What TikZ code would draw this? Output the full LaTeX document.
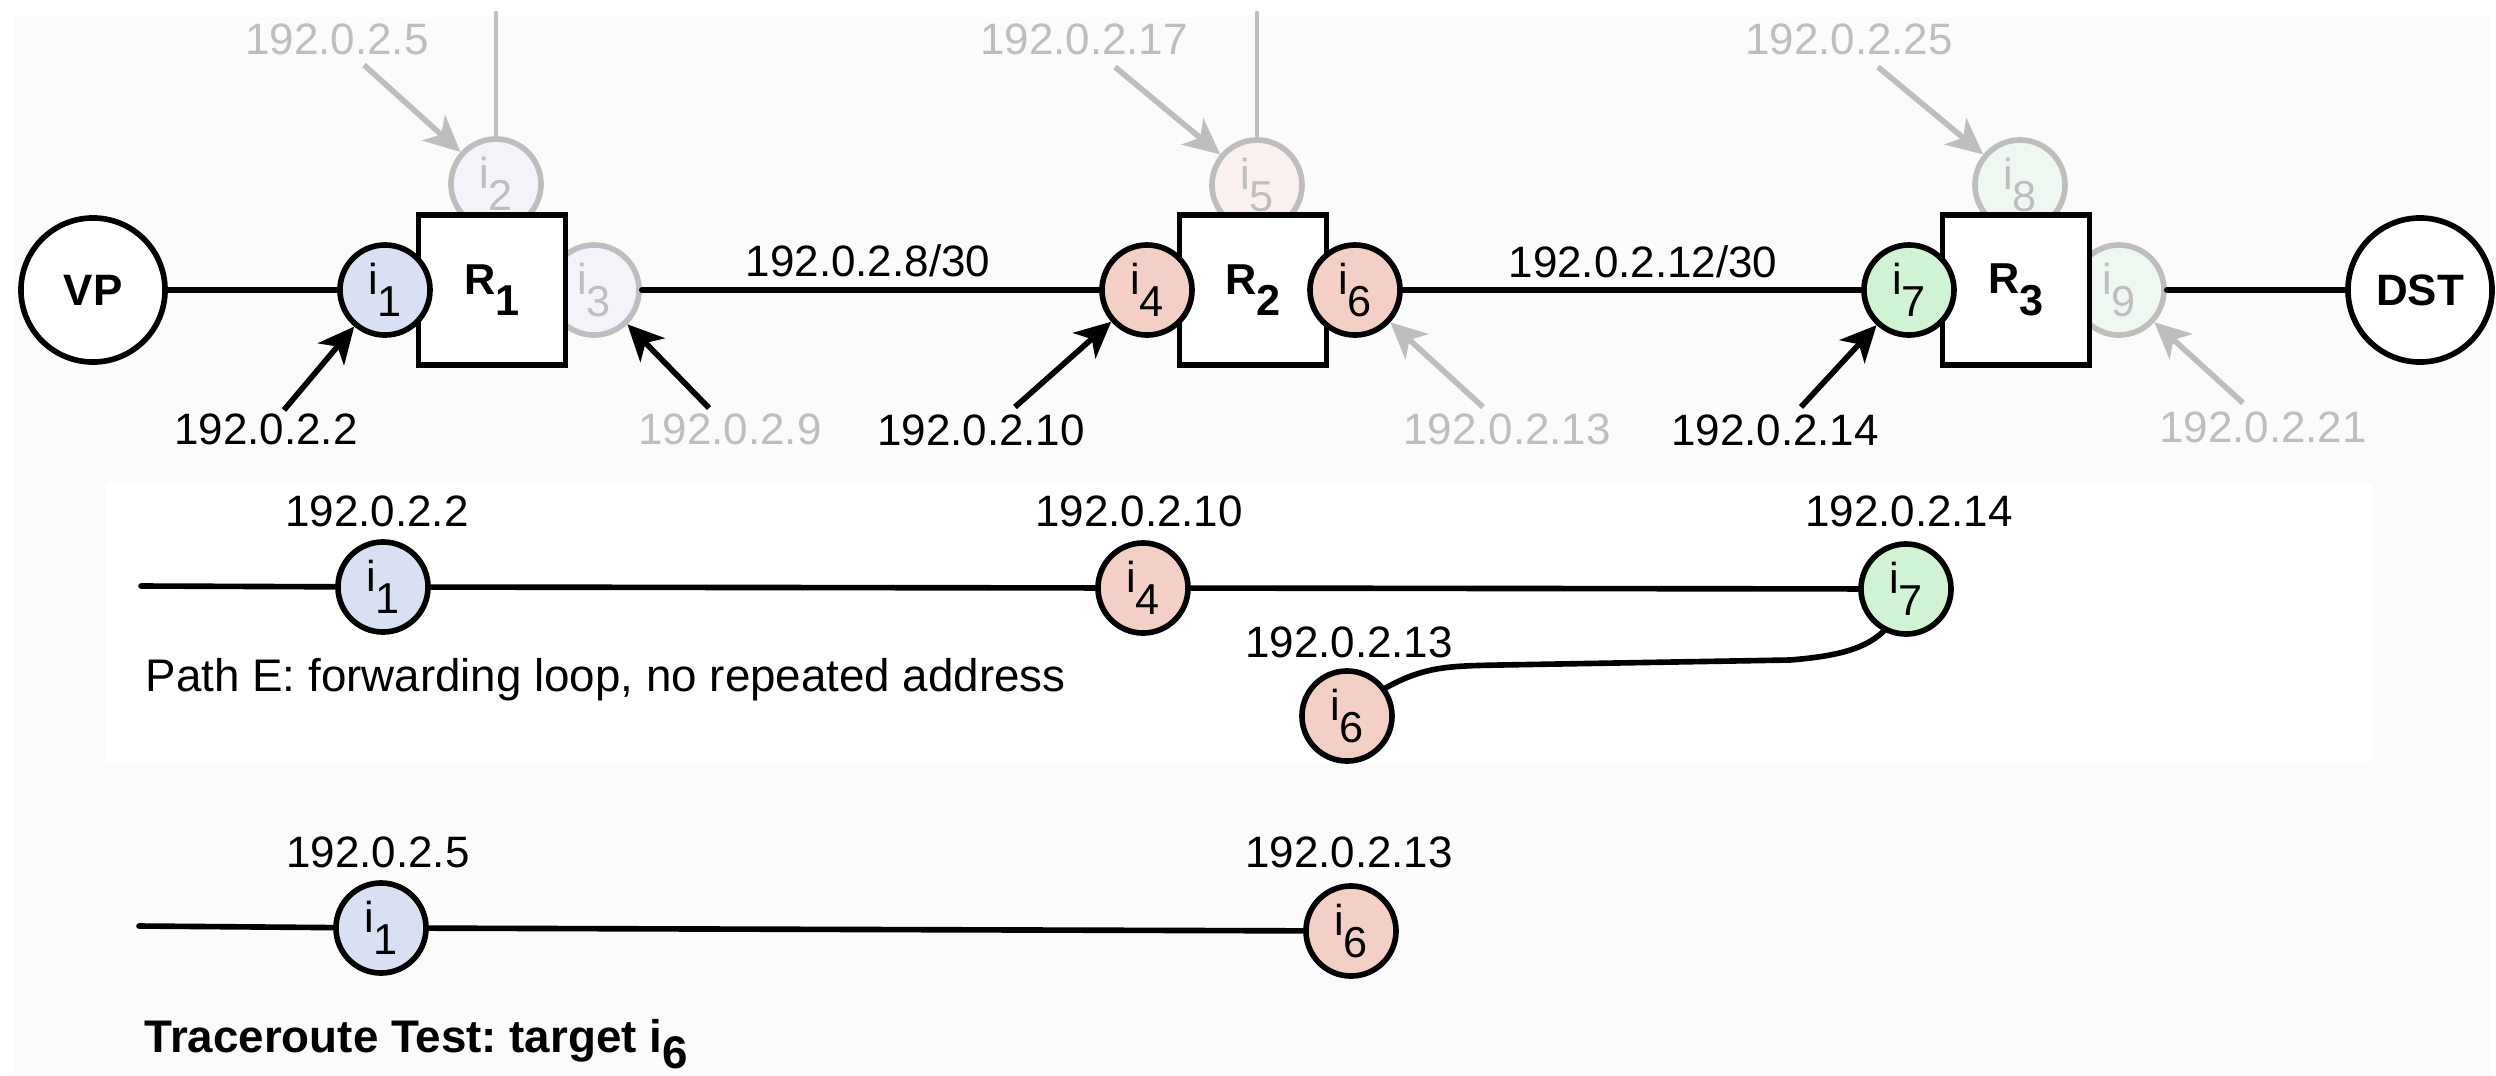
\documentclass[tikz,border=0pt]{standalone}
\usepackage{fontspec}
\setmainfont{Liberation Sans}
\usetikzlibrary{arrows.meta}
\frenchspacing

\definecolor{fadegray}{HTML}{BEBEBE}
\definecolor{ifblue}{HTML}{DAE0F3}
\definecolor{ifred}{HTML}{F4CFC6}
\definecolor{ifgreen}{HTML}{CFF3D3}
\definecolor{fadeblue}{HTML}{F3F4FA}
\definecolor{fadered}{HTML}{FAF0EE}
\definecolor{fadegreen}{HTML}{EFF8F0}
\definecolor{panelgray}{HTML}{FBFBFB}

% interface name with a lowered, full-size index
\newcommand{\lowsub}[1]{\raisebox{-0.5em}{#1}}
\newcommand{\ifname}[1]{i\lowsub{#1}}

\tikzset{
  iface/.style={circle, draw, line width=1.6pt, minimum size=0.9cm, inner sep=0pt,
                font=\fontsize{12.3}{14}\selectfont},
  faded/.style={draw=fadegray, text=fadegray},
  router/.style={rectangle, draw, fill=white, line width=1.6pt, minimum width=1.47cm,
                 minimum height=1.5cm, inner sep=0pt, font=\fontsize{12.3}{14}\selectfont\bfseries},
  endpoint/.style={circle, draw, fill=white, line width=1.6pt, minimum size=1.44cm,
                   inner sep=0pt, font=\fontsize{12.5}{15}\selectfont\bfseries},
  addr/.style={inner sep=0pt, font=\fontsize{12.5}{15}\selectfont},
  caption/.style={inner sep=0pt, anchor=base west, font=\fontsize{13}{15}\selectfont},
  fadetext/.style={text=fadegray},
  link/.style={line width=1.6pt, line cap=round},
  stub/.style={line width=1.3pt, draw=fadegray, line cap=round},
  ptr/.style={line width=1.6pt, -{Stealth[length=0.36cm, width=0.34cm, inset=0.1cm]}},
  fadeptr/.style={ptr, draw=fadegray, fill=fadegray}
}

\begin{document}
\begin{tikzpicture}[x=0.01cm, y=-0.01cm]
  \useasboundingbox (0,0) rectangle (2496,1075);
  % backgrounds
  \fill[white] (0,0) rectangle (2496,1075);
  \fill[panelgray] (13,17) rectangle (2490,1075);
  \fill[white] (106,483) rectangle (2372,762);

  % ---------------- topology ----------------
  % interfaces not on the path (behind the routers)
  \node[iface, faded, fill=fadeblue]  (i2) at (496,184) {\ifname{2}};
  \node[iface, faded, fill=fadeblue]  (i3) at (594,290) {\ifname{3}};
  \node[iface, faded, fill=fadered]   (i5) at (1257,185) {\ifname{5}};
  \node[iface, faded, fill=fadegreen] (i8) at (2020,185) {\ifname{8}};
  \node[iface, faded, fill=fadegreen] (i9) at (2119,290) {\ifname{9}};

  % routers
  \node[router] (R1) at (492,290) {R\lowsub{1}};
  \node[router] (R2) at (1253,290) {R\lowsub{2}};
  \node[router] (R3) at (2016,290) {R\lowsub{3}};

  % interfaces on the path
  \node[iface, fill=ifblue]  (i1) at (385,290) {\ifname{1}};
  \node[iface, fill=ifred]   (i4) at (1147,290) {\ifname{4}};
  \node[iface, fill=ifred]   (i6) at (1355,290) {\ifname{6}};
  \node[iface, fill=ifgreen] (i7) at (1909,290) {\ifname{7}};

  % end hosts
  \node[endpoint] (VP)  at (93,290)   {VP};
  \node[endpoint] (DST) at (2420,290) {DST};

  % links
  \draw[link] (VP) -- (i1);
  \draw[link] (i3) -- (i4);
  \draw[link] (i6) -- (i7);
  \draw[link] (i9) -- (DST);
  \coordinate (s2) at (496,13);
  \coordinate (s5) at (1257,13);
  \draw[stub] (s2) -- (i2);
  \draw[stub] (s5) -- (i5);

  % link prefixes
  \node[addr, anchor=base] (p1) at (868,276)  {192.0.2.8/30};
  \node[addr, anchor=base] (p2) at (1643,277) {192.0.2.12/30};

  % address pointers
  \coordinate (t1) at (284,410);
  \coordinate (t2) at (364,65);
  \coordinate (t3) at (709,408);
  \coordinate (t4) at (1015,407);
  \coordinate (t5) at (1115,67);
  \coordinate (t6) at (1483,407);
  \coordinate (t7) at (1801,407);
  \coordinate (t8) at (1878,67);
  \coordinate (t9) at (2243,403);
  \draw[ptr]     (t1) -- (i1);
  \draw[fadeptr] (t2) -- (i2);
  \draw[ptr]     (t3) -- (i3);
  \draw[ptr]     (t4) -- (i4);
  \draw[fadeptr] (t5) -- (i5);
  \draw[fadeptr] (t6) -- (i6);
  \draw[ptr]     (t7) -- (i7);
  \draw[fadeptr] (t8) -- (i8);
  \draw[fadeptr] (t9) -- (i9);

  % addresses
  \node[addr]           (a1) at (266,429)  {192.0.2.2};
  \node[addr, fadetext] (a2) at (337,39)   {192.0.2.5};
  \node[addr, fadetext] (a3) at (730,429)  {192.0.2.9};
  \node[addr]           (a4) at (981,430)  {192.0.2.10};
  \node[addr, fadetext] (a5) at (1084,39)  {192.0.2.17};
  \node[addr, fadetext] (a6) at (1507,429) {192.0.2.13};
  \node[addr]           (a7) at (1775,430) {192.0.2.14};
  \node[addr, fadetext] (a8) at (1849,39)  {192.0.2.25};
  \node[addr, fadetext] (a9) at (2263,427) {192.0.2.21};

  % ---------------- path E ----------------
  \coordinate (ms) at (141,586);
  \node[iface, fill=ifblue]  (m1) at (383,587)  {\ifname{1}};
  \node[iface, fill=ifred]   (m4) at (1143,588) {\ifname{4}};
  \node[iface, fill=ifgreen] (m7) at (1906,589) {\ifname{7}};
  \node[iface, fill=ifred]   (m6) at (1347,716) {\ifname{6}};
  \draw[link] (ms) -- (m1);
  \draw[link] (m1) -- (m4);
  \draw[link] (m4) -- (m7);
  \draw[link] (m6.36) .. controls (1425,666) and (1450,666) .. (1500,665)
              -- (1790,660) .. controls (1840,656) and (1866,648) .. (m7.242);
  \node[addr] (ma1) at (377,511)  {192.0.2.2};
  \node[addr] (ma4) at (1139,511) {192.0.2.10};
  \node[addr] (ma7) at (1909,511) {192.0.2.14};
  \node[addr] (ma6) at (1349,642) {192.0.2.13};
  \node[caption] (mcap) at (145,691)
       {Path E: forwarding loop, no repeated address};

  % ---------------- traceroute test ----------------
  \coordinate (bs) at (139,926);
  \node[iface, fill=ifblue] (b1) at (381,928) {\ifname{1}};
  \node[iface, fill=ifred]  (b6) at (1351,931) {\ifname{6}};
  \draw[link] (bs) -- (b1);
  \draw[link] (b1) -- (b6);
  \node[addr] (ba1) at (378,852)  {192.0.2.5};
  \node[addr] (ba6) at (1349,852) {192.0.2.13};
  \node[caption, font=\fontsize{13}{15}\selectfont\bfseries] (bcap) at (144,1052)
       {Traceroute Test: target i\raisebox{-0.36em}{6}};
\end{tikzpicture}
\end{document}
